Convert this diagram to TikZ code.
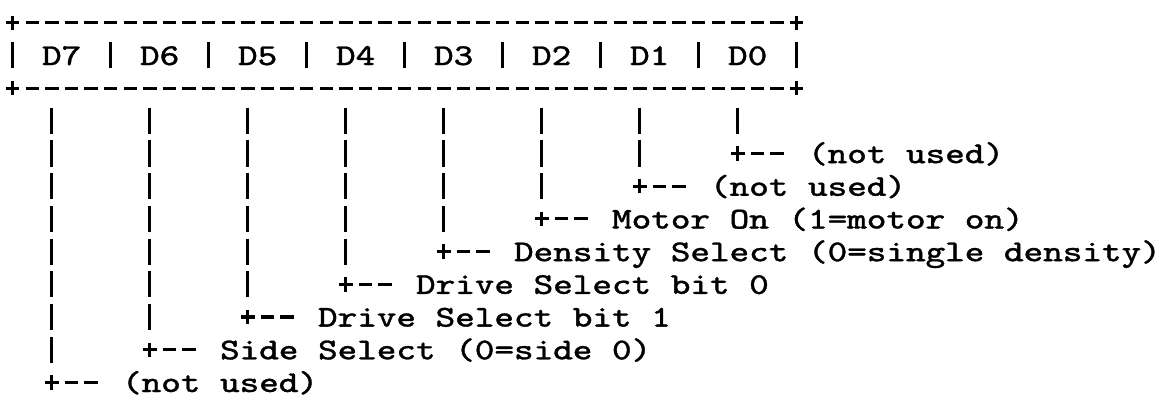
\documentclass[tikz,border=0pt]{standalone}
\usepackage{graphicx}
\usepackage{fontspec}
\usetikzlibrary{calc}
\newfontfamily\tymono[FakeBold=1]{Latin Modern Mono}
\newcommand{\tyfont}{\fontsize{8.6}{10}\selectfont\tymono}
\newcommand{\tw}[1]{\scalebox{1.235}[1]{#1}}

\begin{document}
\begin{tikzpicture}[x=0.196cm,y=-0.327cm,line width=0.9pt]
  \tikzstyle{cell}=[inner sep=0pt,text height=6.4pt,text depth=0.94pt,font=\tyfont]
  \tikzstyle{lbl}=[cell,anchor=west]
  \tikzstyle{hdash}=[dash pattern=on 0.133cm off 0.063cm]
  \tikzstyle{bar}=[dash pattern=on 0.262cm off 0.065cm]
  \useasboundingbox (-0.648,-0.694) rectangle (58.69,11.477);
  % register box
  \draw[hdash] (-0.34,0) -- (40.34,0);
  \draw[hdash] (-0.34,2) -- (40.34,2);
  \foreach \x in {0,40} \foreach \y in {0,2}
    \draw (\x,\y-0.22) -- (\x,\y+0.22);
  \foreach \x in {0,5,...,40}
    \draw (\x,0.6) -- (\x,1.4);
  \foreach \b in {0,...,7}
    \node[cell] (d\b) at (37.5-5*\b,1) {\tw{D\b}};
  % bit meanings
  \node[lbl] (l0) at (40.5,4) {\tw{(not used)}};
  \node[lbl] (l1) at (35.5,5) {\tw{(not used)}};
  \node[lbl] (l2) at (30.5,6) {\tw{Motor On (1=motor on)}};
  \node[lbl] (l3) at (25.5,7) {\tw{Density Select (0=single density)}};
  \node[lbl] (l4) at (20.5,8) {\tw{Drive Select bit 0}};
  \node[lbl] (l5) at (15.5,9) {\tw{Drive Select bit 1}};
  \node[lbl] (l6) at (10.5,10) {\tw{Side Select (0=side 0)}};
  \node[lbl] (l7) at (5.5,11) {\tw{(not used)}};
  \foreach \b in {0,...,7} {
    \coordinate (t\b) at ($(d\b)+(-0.5,1.6)$);
    \coordinate (c\b) at (t\b |- l\b.west);
    \draw[bar] (t\b) -- ($(c\b)+(0,-0.6)$);
    \draw ($(c\b)+(0,-0.22)$) -- ($(c\b)+(0,0.22)$);
    \draw[hdash] ($(c\b)+(-0.34,0)$) -- ($(l\b.west)+(-1.16,0)$);
  }
\end{tikzpicture}
\end{document}
